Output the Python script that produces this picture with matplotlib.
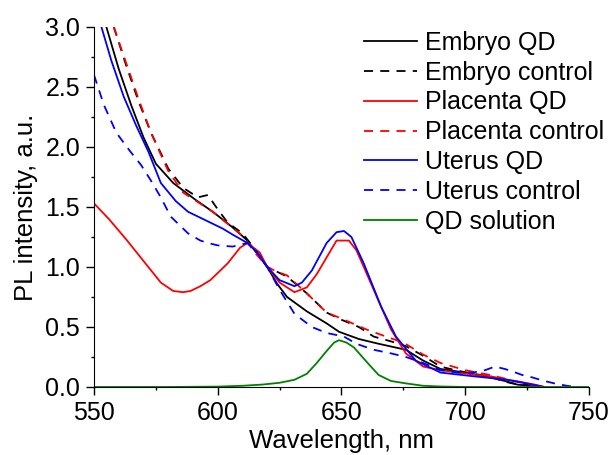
import numpy as np
import matplotlib
matplotlib.use('Agg')
import matplotlib.pyplot as plt

plt.rcParams['font.family'] = ['Liberation Sans', 'DejaVu Sans']

# Embryo QD
emb_qd_x = [555, 560, 565, 570, 575, 582, 591, 598, 606, 612, 617, 620, 624, 628, 636, 644, 649, 657, 665, 676, 683, 690, 700, 710, 716, 721, 726, 730]
emb_qd_y = [3.0, 2.65, 2.35, 2.08, 1.86, 1.70, 1.56, 1.46, 1.33, 1.22, 1.08, 1.0, 0.86, 0.75, 0.63, 0.53, 0.46, 0.40, 0.36, 0.31, 0.22, 0.15, 0.12, 0.08, 0.05, 0.02, 0.01, 0.0]

# Embryo control
emb_ct_x = [558, 563, 568, 573, 580, 586, 592, 596, 600, 604, 610, 615, 620, 624, 628, 636, 644, 650, 657, 663, 670, 676, 683, 690, 696, 703, 710, 715, 719, 725, 730]
emb_ct_y = [3.0, 2.68, 2.38, 2.12, 1.82, 1.66, 1.58, 1.60, 1.48, 1.37, 1.28, 1.15, 1.0, 0.96, 0.92, 0.78, 0.62, 0.56, 0.50, 0.42, 0.38, 0.34, 0.26, 0.17, 0.14, 0.11, 0.09, 0.05, 0.03, 0.02, 0.0]

# Placenta QD
pla_qd_x = [550, 556, 563, 570, 577, 582, 586, 589, 593, 597, 604, 609, 612, 617, 620, 625, 631, 636, 640, 644, 648, 653, 656, 659, 663, 670, 676, 683, 690, 697, 705, 710, 717, 723, 728, 732]
pla_qd_y = [1.53, 1.40, 1.23, 1.05, 0.87, 0.80, 0.79, 0.80, 0.84, 0.89, 1.03, 1.16, 1.20, 1.12, 1.0, 0.87, 0.79, 0.83, 0.94, 1.08, 1.22, 1.22, 1.14, 1.0, 0.81, 0.48, 0.28, 0.17, 0.14, 0.12, 0.10, 0.09, 0.06, 0.04, 0.02, 0.0]

# Placenta control
pla_ct_x = [558, 563, 568, 573, 580, 586, 592, 598, 604, 610, 615, 620, 624, 628, 636, 644, 650, 660, 668, 675, 683, 690, 700, 710, 720, 726, 732]
pla_ct_y = [3.0, 2.70, 2.40, 2.12, 1.80, 1.62, 1.54, 1.46, 1.36, 1.26, 1.12, 1.0, 0.96, 0.93, 0.78, 0.62, 0.57, 0.48, 0.42, 0.37, 0.27, 0.20, 0.14, 0.10, 0.05, 0.02, 0.0]

# Uterus QD
ute_qd_x = [553, 557, 562, 567, 572, 577, 583, 588, 593, 597, 602, 606, 612, 616, 620, 625, 631, 634, 638, 644, 648, 651, 654, 659, 666, 672, 680, 690, 703, 717, 722, 727, 732]
ute_qd_y = [3.0, 2.72, 2.42, 2.18, 1.96, 1.70, 1.55, 1.46, 1.41, 1.37, 1.32, 1.27, 1.20, 1.12, 1.0, 0.89, 0.84, 0.87, 0.97, 1.20, 1.29, 1.30, 1.25, 1.03, 0.67, 0.42, 0.22, 0.12, 0.09, 0.06, 0.04, 0.02, 0.0]

# Uterus control
ute_ct_x = [550, 554, 559, 564, 569, 573, 577, 581, 588, 593, 596, 600, 606, 612, 616, 620, 625, 631, 638, 644, 651, 656, 663, 670, 676, 683, 690, 697, 703, 708, 712, 716, 719, 723, 727, 732, 736, 741, 745]
ute_ct_y = [2.60, 2.35, 2.12, 1.98, 1.85, 1.72, 1.58, 1.42, 1.28, 1.22, 1.20, 1.18, 1.17, 1.20, 1.12, 1.0, 0.81, 0.61, 0.50, 0.45, 0.42, 0.36, 0.31, 0.28, 0.25, 0.20, 0.14, 0.12, 0.12, 0.14, 0.17, 0.15, 0.13, 0.10, 0.08, 0.05, 0.03, 0.01, 0.0]

# QD solution
qd_x = [550, 580, 600, 610, 618, 625, 631, 636, 640, 644, 647, 649, 652, 655, 658, 661, 665, 670, 676, 683, 690, 700, 750]
qd_y = [0.0, 0.0, 0.003, 0.01, 0.02, 0.035, 0.06, 0.11, 0.20, 0.30, 0.37, 0.39, 0.37, 0.33, 0.26, 0.19, 0.10, 0.05, 0.03, 0.01, 0.004, 0.0, 0.0]

fig = plt.figure(figsize=(6.12, 4.55), dpi=100)
ax = fig.add_axes([0.1536, 0.1495, 0.8088, 0.7912])

ax.plot(emb_qd_x, emb_qd_y, color='black', lw=1.3, label='Embryo QD')
ax.plot(emb_ct_x, emb_ct_y, color='black', lw=1.3, ls=(0, (5, 4)), label='Embryo control')
ax.plot(pla_qd_x, pla_qd_y, color='#ff0000', lw=1.3, label='Placenta QD')
ax.plot(pla_ct_x, pla_ct_y, color='#ff0000', lw=1.3, ls=(0, (5, 4)), label='Placenta control')
ax.plot(ute_qd_x, ute_qd_y, color='#0000ff', lw=1.3, label='Uterus QD')
ax.plot(ute_ct_x, ute_ct_y, color='#0000ff', lw=1.3, ls=(0, (5, 4)), label='Uterus control')
ax.plot(qd_x, qd_y, color='#008000', lw=1.3, label='QD solution')

ax.set_xlim(550, 750)
ax.set_ylim(0, 3.0)
ax.set_xticks([550, 600, 650, 700, 750])
ax.set_xticks(np.arange(550, 751, 25), minor=True)
ax.set_yticks(np.arange(0, 3.01, 0.5))
ax.set_yticks(np.arange(0, 3.01, 0.25), minor=True)
ax.yaxis.set_major_formatter(matplotlib.ticker.FormatStrFormatter('%.1f'))
ax.spines['top'].set_visible(False)
ax.spines['right'].set_visible(False)
ax.tick_params(which='major', direction='out', length=5.5, width=1, labelsize=18)
ax.tick_params(which='minor', direction='out', length=2.5, width=1)
ax.tick_params(axis='x', which='major', pad=4.5)
ax.tick_params(axis='y', which='major', pad=4.5)
ax.set_xlabel('Wavelength, nm', fontsize=18.5, labelpad=3)
ax.set_ylabel('PL intensity, a.u.', fontsize=18.5, labelpad=5)

ax.legend(loc='upper left', bbox_to_anchor=(354 / 612, 1 - 21 / 455), bbox_transform=fig.transFigure,
          borderaxespad=0, frameon=False, fontsize=18,
          handlelength=2.1, handletextpad=0.35, labelspacing=0.23)

fig.savefig('out.png', dpi=100)
